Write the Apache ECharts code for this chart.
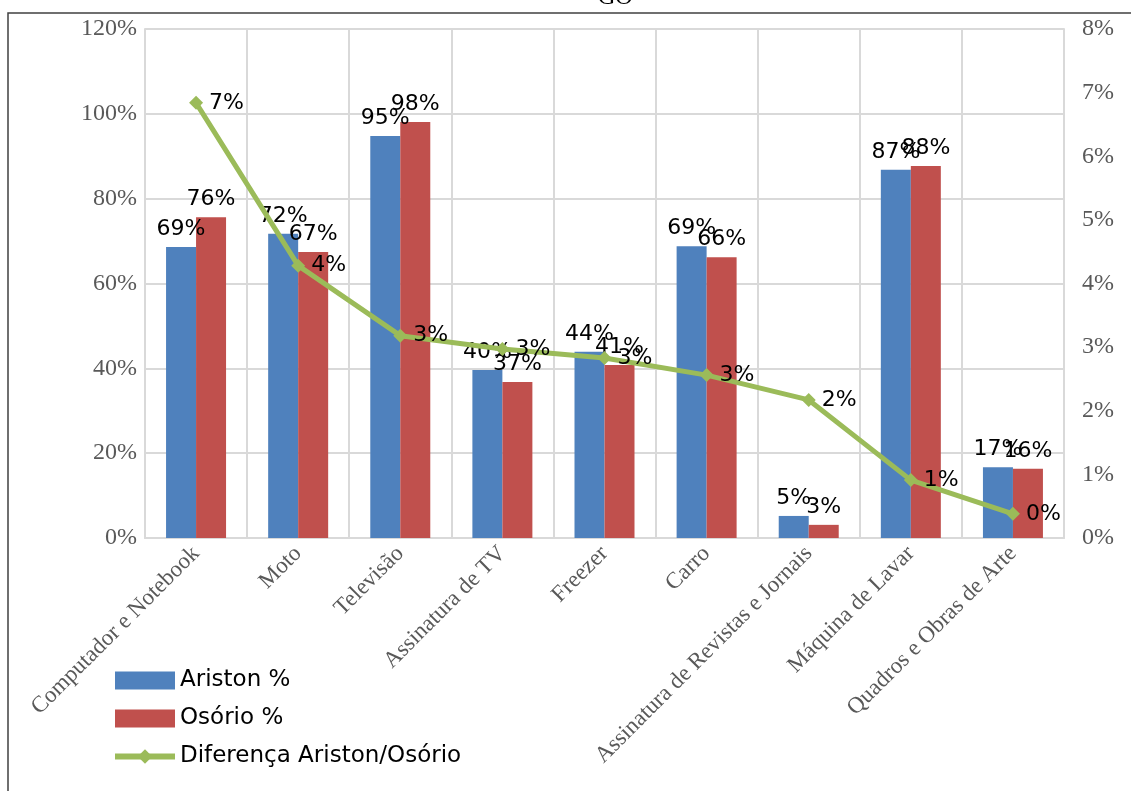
<!DOCTYPE html>
<html>
<head>
<meta charset="utf-8">
<script src="https://cdn.jsdelivr.net/npm/echarts@6/dist/echarts.min.js"></script>
<style>
  html, body { margin: 0; padding: 0; background: #fff; }
  #chart { width: 1131px; height: 791px; }
</style>
</head>
<body>
<div id="chart"></div>
<script>
// Items owned, share of households per neighbourhood (%)
const categories = [
  'Computador e Notebook', 'Moto', 'Televisão', 'Assinatura de TV', 'Freezer',
  'Carro', 'Assinatura de Revistas e Jornais', 'Máquina de Lavar', 'Quadros e Obras de Arte'
];
const aristonPct = [68.6, 71.7, 94.8, 39.6, 43.9, 68.8, 5.2, 86.8, 16.7];
const osorioPct  = [75.6, 67.4, 98.1, 36.8, 40.8, 66.2, 3.1, 87.7, 16.3];
// Difference between the two neighbourhoods (right axis, %)
const diferencaPct = [6.84, 4.28, 3.18, 2.97, 2.83, 2.56, 2.17, 0.91, 0.38];

const seriesNames = ['Ariston %', 'Osório %', 'Diferença Ariston/Osório'];
const colors = ['#4F81BD', '#C0504D', '#9BBB59'];

const serif = '"Liberation Serif", "DejaVu Serif", serif';
const sans = '"DejaVu Sans", sans-serif';
const grid = '#D9D9D9';

const pct = p => Math.round(p.value) + '%';

const chart = echarts.init(document.getElementById('chart'));
chart.setOption({
  animation: false,
  backgroundColor: '#fff',
  title: {
    text: 'GO',
    left: 593, top: -19,
    textStyle: { fontFamily: serif, fontSize: 24, fontWeight: 'normal', color: '#000' }
  },
  graphic: [{
    type: 'rect',
    shape: { x: 8, y: 13, width: 1200, height: 900 },
    style: { fill: 'none', stroke: '#404040', lineWidth: 1.5 },
    silent: true
  }],
  legend: {
    orient: 'vertical',
    left: 107, top: 664,
    itemWidth: 60, itemHeight: 18, itemGap: 15,
    data: [
      { name: seriesNames[0], icon: 'rect' },
      { name: seriesNames[1], icon: 'rect' },
      { name: seriesNames[2], lineStyle: { width: 6 }, itemStyle: { borderWidth: 0 } }
    ],
    textStyle: { fontFamily: sans, fontSize: 23, color: '#000', padding: [0, 0, 0, 0] }
  },
  grid: { left: 145, right: 67, top: 29, bottom: 253, containLabel: false },
  xAxis: {
    type: 'category',
    data: categories,
    boundaryGap: true,
    axisLine: { show: true, lineStyle: { color: grid, width: 2 } },
    axisTick: { show: false },
    splitLine: { show: true, lineStyle: { color: grid, width: 2 } },
    axisLabel: {
      interval: 0, rotate: 45, margin: 12,
      fontFamily: serif, fontSize: 23, color: '#595959'
    }
  },
  yAxis: [{
    type: 'value', min: 0, max: 120, interval: 20,
    axisLine: { show: true, lineStyle: { color: grid, width: 2 } },
    axisTick: { show: false },
    splitLine: { lineStyle: { color: grid, width: 2 } },
    axisLabel: { formatter: '{value}%', fontFamily: serif, fontSize: 24, color: '#595959', margin: 8 }
  }, {
    type: 'value', min: 0, max: 8, interval: 1,
    position: 'right',
    axisLine: { show: true, lineStyle: { color: grid, width: 2 } },
    axisTick: { show: false },
    splitLine: { show: false },
    axisLabel: { formatter: '{value}%', fontFamily: serif, fontSize: 24, color: '#595959', margin: 18 }
  }],
  series: [{
    name: seriesNames[0], type: 'bar', data: aristonPct,
    barWidth: 30, barGap: '0%',
    itemStyle: { color: colors[0] },
    label: { show: true, position: 'top', distance: 7, formatter: pct,
             fontFamily: sans, fontSize: 22, color: '#000' }
  }, {
    name: seriesNames[1], type: 'bar', data: osorioPct,
    barWidth: 30, barGap: '0%',
    itemStyle: { color: colors[1] },
    label: { show: true, position: 'top', distance: 7, formatter: pct,
             fontFamily: sans, fontSize: 22, color: '#000' }
  }, {
    name: seriesNames[2], type: 'line', yAxisIndex: 1, data: diferencaPct,
    symbol: 'diamond', symbolSize: 14,
    lineStyle: { color: colors[2], width: 5 },
    itemStyle: { color: colors[2] },
    z: 5,
    label: { show: true, position: 'right', distance: 6, formatter: pct,
             fontFamily: sans, fontSize: 22, color: '#000' }
  }]
});
</script>
</body>
</html>
